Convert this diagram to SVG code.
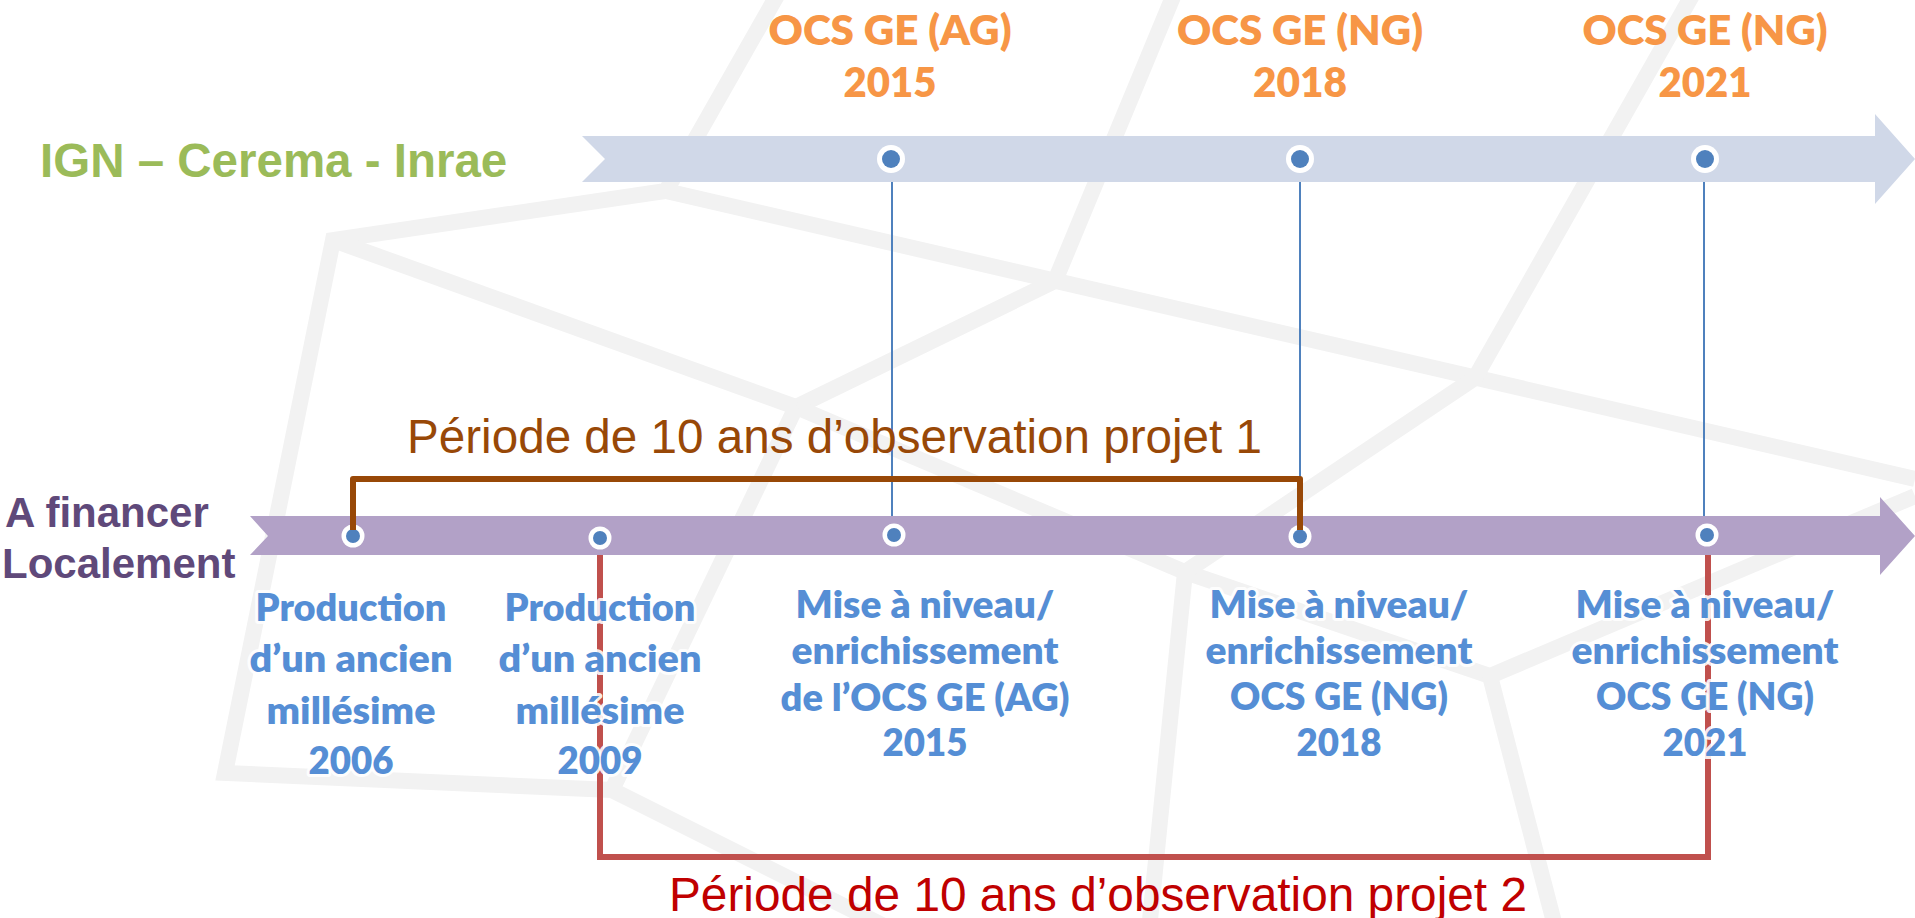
<svg xmlns="http://www.w3.org/2000/svg" width="1915" height="918" viewBox="0 0 1915 918">
<style>
.bgl{fill:none;stroke:#F2F2F2;stroke-width:16;stroke-linejoin:miter}
.arial{font-family:"Liberation Sans",Arial,sans-serif}
.cal{font-family:Lato,"Liberation Sans",sans-serif;font-weight:800;text-anchor:middle}
.org{fill:#F79646;font-size:42px}
.blu{fill:#558ED5;font-size:38.5px;stroke:#fff;stroke-width:6;stroke-opacity:.9;stroke-linejoin:round;paint-order:stroke}
.ring{fill:#fff}
.dot{fill:#4F81BD}
.vline{stroke:#4F81BD;stroke-width:2;fill:none}
</style>
<rect width="1915" height="918" fill="#fff"/>
<g id="background">
<polyline class="bgl" points="779,-8 666,191 333,240 225,773 612,790 892,930"/>
<polyline class="bgl" points="666,191 1915,479"/>
<polyline class="bgl" points="1175,-8 1055,281 796,407 333,240"/>
<polyline class="bgl" points="796,407 1185,572 1490,676 1915,496"/>
<polyline class="bgl" points="796,407 612,790"/>
<polyline class="bgl" points="1694,-8 1475,378 1185,572 1149,930"/>
<polyline class="bgl" points="1490,676 1556,930"/>
</g>
<g id="band-ign">
<polygon points="582,136 1875,136 1875,114 1915,159 1875,204 1875,182 582,182 605,159" fill="#D0D8E8"/>
</g>
<g id="band-local">
<polygon points="250,516 1880,516 1880,497 1915,536 1880,575 1880,555 250,555 268,536" fill="#B2A1C7"/>
</g>
<g id="dot-ign-2015"><circle class="ring" cx="891" cy="159" r="14"/><circle class="dot" cx="891" cy="159" r="9"/></g>
<g id="dot-ign-2018"><circle class="ring" cx="1300" cy="159" r="14"/><circle class="dot" cx="1300" cy="159" r="9"/></g>
<g id="dot-ign-2021"><circle class="ring" cx="1705" cy="159" r="14"/><circle class="dot" cx="1705" cy="159" r="9"/></g>
<g id="dot-loc-2006"><circle class="ring" cx="353" cy="536" r="11.5"/><circle class="dot" cx="353" cy="536" r="7"/></g>
<g id="dot-loc-2009"><circle class="ring" cx="600" cy="538" r="11.5"/><circle class="dot" cx="600" cy="538" r="7"/></g>
<g id="dot-loc-2015"><circle class="ring" cx="894" cy="535" r="11.5"/><circle class="dot" cx="894" cy="535" r="7"/></g>
<g id="dot-loc-2018"><circle class="ring" cx="1300" cy="536.5" r="11.5"/><circle class="dot" cx="1300" cy="536.5" r="7"/></g>
<g id="dot-loc-2021"><circle class="ring" cx="1707" cy="535" r="11.5"/><circle class="dot" cx="1707" cy="535" r="7"/></g>
<g id="connectors">
<line class="vline" x1="892" y1="182" x2="892" y2="516"/>
<line class="vline" x1="1300" y1="182" x2="1300" y2="516"/>
<line class="vline" x1="1704" y1="182" x2="1704" y2="516"/>
<path d="M353,530 V479 H1300 V530" fill="none" stroke="#984807" stroke-width="6" stroke-linejoin="round"/>
<path d="M600,555 V857 H1708 V555" fill="none" stroke="#C0504D" stroke-width="6" stroke-linejoin="miter"/>
</g>
<g id="label-ign">
<text class="arial" x="40" y="177" font-size="47.5" font-weight="700" fill="#9BBB59">IGN – Cerema - Inrae</text>
</g>
<g id="label-local" class="arial" font-size="42" font-weight="700" fill="#5F497A">
<text x="5" y="527">A financer</text>
<text x="2" y="578">Localement</text>
</g>
<g id="top-2015" class="cal org">
<text x="890" y="45" textLength="243" lengthAdjust="spacingAndGlyphs">OCS GE (AG)</text>
<text x="890" y="97" textLength="93" lengthAdjust="spacingAndGlyphs">2015</text>
</g>
<g id="top-2018" class="cal org">
<text x="1300" y="45" textLength="246" lengthAdjust="spacingAndGlyphs">OCS GE (NG)</text>
<text x="1300" y="97" textLength="94" lengthAdjust="spacingAndGlyphs">2018</text>
</g>
<g id="top-2021" class="cal org">
<text x="1705" y="45" textLength="245" lengthAdjust="spacingAndGlyphs">OCS GE (NG)</text>
<text x="1705" y="97" textLength="93" lengthAdjust="spacingAndGlyphs">2021</text>
</g>
<g id="period-1">
<text class="arial" x="407" y="453" font-size="47.5" fill="#984807" textLength="855" lengthAdjust="spacingAndGlyphs">Période de 10 ans d’observation projet 1</text>
</g>
<g id="period-2">
<text class="arial" x="669" y="911" font-size="47.5" fill="#C00000" textLength="858" lengthAdjust="spacingAndGlyphs">Période de 10 ans d’observation projet 2</text>
</g>
<g id="lbl-2006" class="cal blu">
<text x="351" y="621" textLength="191" lengthAdjust="spacingAndGlyphs">Production</text>
<text x="351" y="672" textLength="203" lengthAdjust="spacingAndGlyphs">d’un ancien</text>
<text x="351" y="724" textLength="169" lengthAdjust="spacingAndGlyphs">millésime</text>
<text x="351" y="774" textLength="85" lengthAdjust="spacingAndGlyphs">2006</text>
</g>
<g id="lbl-2009" class="cal blu">
<text x="600" y="621" textLength="191" lengthAdjust="spacingAndGlyphs">Production</text>
<text x="600" y="672" textLength="203" lengthAdjust="spacingAndGlyphs">d’un ancien</text>
<text x="600" y="724" textLength="169" lengthAdjust="spacingAndGlyphs">millésime</text>
<text x="600" y="774" textLength="85" lengthAdjust="spacingAndGlyphs">2009</text>
</g>
<g id="lbl-2015" class="cal blu">
<text x="925" y="618" textLength="259" lengthAdjust="spacingAndGlyphs">Mise à niveau/</text>
<text x="925" y="664" textLength="267" lengthAdjust="spacingAndGlyphs">enrichissement</text>
<text x="925" y="711" textLength="289" lengthAdjust="spacingAndGlyphs">de l’OCS GE (AG)</text>
<text x="925" y="756" textLength="85" lengthAdjust="spacingAndGlyphs">2015</text>
</g>
<g id="lbl-2018" class="cal blu">
<text x="1339" y="618" textLength="259" lengthAdjust="spacingAndGlyphs">Mise à niveau/</text>
<text x="1339" y="664" textLength="267" lengthAdjust="spacingAndGlyphs">enrichissement</text>
<text x="1339" y="710" textLength="218" lengthAdjust="spacingAndGlyphs">OCS GE (NG)</text>
<text x="1339" y="756" textLength="85" lengthAdjust="spacingAndGlyphs">2018</text>
</g>
<g id="lbl-2021" class="cal blu">
<text x="1705" y="618" textLength="259" lengthAdjust="spacingAndGlyphs">Mise à niveau/</text>
<text x="1705" y="664" textLength="267" lengthAdjust="spacingAndGlyphs">enrichissement</text>
<text x="1705" y="710" textLength="218" lengthAdjust="spacingAndGlyphs">OCS GE (NG)</text>
<text x="1705" y="756" textLength="85" lengthAdjust="spacingAndGlyphs">2021</text>
</g>
</svg>
